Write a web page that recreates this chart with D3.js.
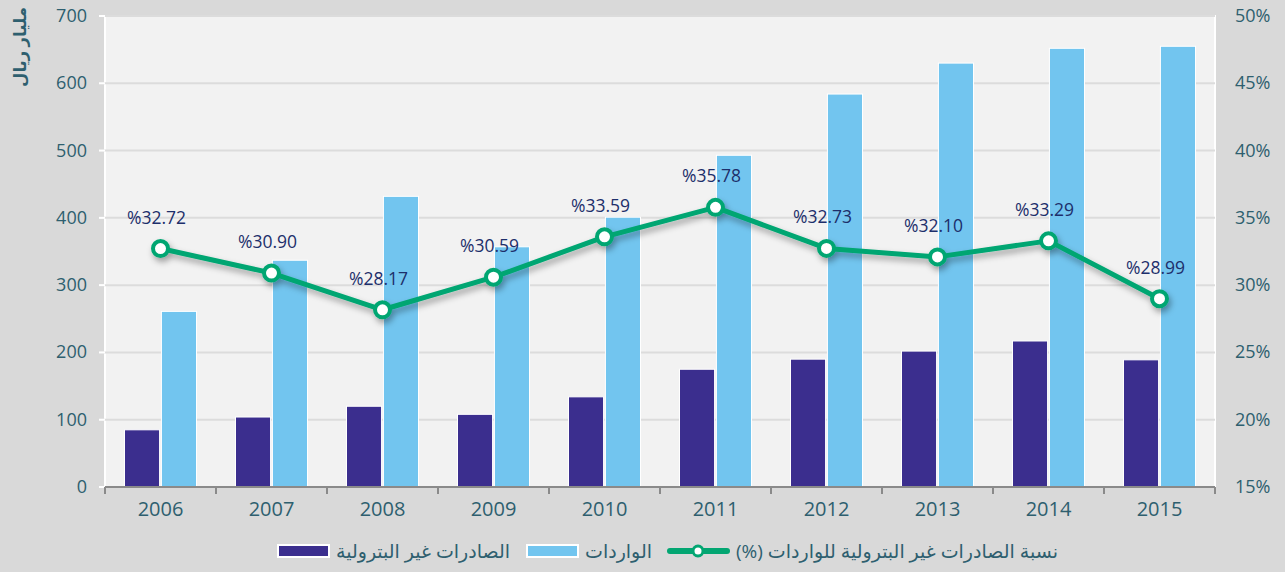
<!DOCTYPE html>
<html><head><meta charset="utf-8">
<script src="https://cdn.jsdelivr.net/npm/d3@7"></script>
<style>
html,body{margin:0;padding:0;background:#d9d9d9;}
svg{display:block;}
text{font-family:"Open Sans","DejaVu Sans",sans-serif;}
</style></head>
<body>
<svg id="c" width="1285" height="572"></svg>
<script>
const years = ["2006","2007","2008","2009","2010","2011","2012","2013","2014","2015"];
const nonOilExports = [85, 104, 120, 108, 134, 175, 190, 202, 217, 189];
const imports = [261, 337, 432, 357, 401, 493, 584, 630, 652, 655];
const ratio = [32.72, 30.90, 28.17, 30.59, 33.59, 35.78, 32.73, 32.10, 33.29, 28.99];
const leftTicks = [0,100,200,300,400,500,600,700];
const rightTicks = [15,20,25,30,35,40,45,50];
const seriesNames = ["الصادرات غير البترولية", "الواردات", "نسبة الصادرات غير البترولية للواردات (%)"];
const yTitle = "مليار ريال";

const W = 1285, H = 572;
const m = {l:105, r:70, t:16, b:85};
const pw = W - m.l - m.r, ph = H - m.t - m.b;
const svg = d3.select("#c");
const defs = svg.append("defs");
const f = defs.append("filter").attr("id","sh").attr("x","-10%").attr("y","-30%").attr("width","120%").attr("height","160%");
f.append("feDropShadow").attr("dx",2).attr("dy",4).attr("stdDeviation",3).attr("flood-color","#000").attr("flood-opacity",0.35);

const C = {purple:"#3b2e8e", blue:"#72c5ef", green:"#03a672", tick:"#2e5f6f", label:"#1d2f6b"};

const x = d3.scaleBand().domain(years).range([0,pw]).paddingInner(0).paddingOuter(0);
const xs = d3.scaleBand().domain([0,1]).range([0,72]).paddingInner(0.05);
const yL = d3.scaleLinear().domain([0,700]).range([ph,0]);
const yR = d3.scaleLinear().domain([15,50]).range([ph,0]);

const g = svg.append("g").attr("transform",`translate(${m.l},${m.t})`);
g.append("rect").attr("x",0).attr("y",0).attr("width",pw).attr("height",ph).attr("fill","#f2f2f2").attr("stroke","#ffffff").attr("stroke-width",2);

// gridlines
g.append("g").selectAll("line").data(leftTicks.slice(1)).join("line")
 .attr("x1",-6).attr("x2",pw).attr("y1",d=>yL(d)).attr("y2",d=>yL(d))
 .attr("stroke","#dcdcdc").attr("stroke-width",2);
g.append("g").selectAll("line").data(leftTicks).join("line")
 .attr("x1",-6).attr("x2",0).attr("y1",d=>yL(d)).attr("y2",d=>yL(d))
 .attr("stroke","#ffffff").attr("stroke-width",2);

// bars
const bg = g.append("g");
bg.selectAll(".p").data(years).join("rect")
 .attr("x",(d)=>x(d)+(x.bandwidth()-72)/2+xs(0)).attr("width",xs.bandwidth())
 .attr("y",(d,i)=>yL(nonOilExports[i])).attr("height",(d,i)=>ph-yL(nonOilExports[i]))
 .attr("fill",C.purple).attr("stroke","#ffffff").attr("stroke-width",1);
bg.selectAll(".b").data(years).join("rect")
 .attr("x",(d)=>x(d)+(x.bandwidth()-72)/2+xs(1)).attr("width",xs.bandwidth())
 .attr("y",(d,i)=>yL(imports[i])).attr("height",(d,i)=>ph-yL(imports[i]))
 .attr("fill",C.blue).attr("stroke","#ffffff").attr("stroke-width",1);

// bottom axis
const xa = g.append("g").attr("transform",`translate(0,${ph})`);
xa.append("line").attr("x1",0).attr("x2",pw).attr("stroke","#8a8a8a").attr("stroke-width",2);
xa.selectAll(".tk").data(d3.range(years.length+1)).join("line")
 .attr("x1",i=>i*x.step()).attr("x2",i=>i*x.step()).attr("y1",0).attr("y2",7)
 .attr("stroke","#8a8a8a").attr("stroke-width",2);
xa.selectAll("text").data(years).join("text")
 .attr("x",d=>x(d)+x.bandwidth()/2).attr("y",29).attr("text-anchor","middle")
 .attr("font-size",20).attr("fill",C.tick).text(d=>d);

// left axis labels
g.append("g").selectAll("text").data(leftTicks).join("text")
 .attr("x",-18).attr("y",d=>yL(d)+6).attr("text-anchor","end")
 .attr("font-size",18).attr("fill",C.tick).text(d=>d);
// right axis labels
g.append("g").selectAll("text").data(rightTicks).join("text")
 .attr("x",pw+20).attr("y",d=>yR(d)+6).attr("text-anchor","start")
 .attr("font-size",18).attr("fill",C.tick).text(d=>d+"%");

// y title
svg.append("text").attr("transform","translate(26,47) rotate(-90)")
 .attr("text-anchor","middle").attr("font-size",16.5).attr("font-weight","bold")
 .attr("fill",C.tick).attr("font-family","'DejaVu Sans',sans-serif").text(yTitle);

// line
const cx = d => x(d)+x.bandwidth()/2;
const line = d3.line().x((d,i)=>cx(years[i])).y(d=>yR(d));
const lg = g.append("g").attr("filter","url(#sh)");
lg.append("path").datum(ratio).attr("d",line).attr("fill","none").attr("stroke",C.green).attr("stroke-width",5).attr("stroke-linejoin","round");
lg.selectAll("circle").data(ratio).join("circle")
 .attr("cx",(d,i)=>cx(years[i])).attr("cy",d=>yR(d)).attr("r",7.5)
 .attr("fill","#ffffff").attr("stroke",C.green).attr("stroke-width",4);

g.append("g").selectAll("text").data(ratio).join("text")
 .attr("x",(d,i)=>cx(years[i])-4).attr("y",d=>yR(d)-25).attr("text-anchor","middle")
 .attr("font-size",17.5).attr("fill",C.label).text(d=>"%"+d.toFixed(2));

// legend
const leg = svg.append("g").attr("transform","translate(0,551)");
const items = [
 {type:"rect",color:C.purple,x0:278,name:seriesNames[0]},
 {type:"rect",color:C.blue,x0:527,name:seriesNames[1]},
 {type:"line",color:C.green,x0:670,name:seriesNames[2]}
];
items.forEach(it=>{
 if(it.type==="rect"){
  leg.append("rect").attr("x",it.x0).attr("y",-6).attr("width",51).attr("height",12)
   .attr("fill",it.color).attr("stroke","#ffffff").attr("stroke-width",2);
 } else {
  leg.append("line").attr("x1",it.x0).attr("x2",it.x0+57).attr("y1",0).attr("y2",0)
   .attr("stroke",it.color).attr("stroke-width",6).attr("stroke-linecap","round");
  leg.append("circle").attr("cx",it.x0+28).attr("cy",0).attr("r",5).attr("fill","#fff").attr("stroke",it.color).attr("stroke-width",3);
 }
 leg.append("text").attr("x",it.x0+(it.type==="rect"?58:66)).attr("y",7)
  .attr("font-size",19).attr("fill",C.tick).attr("font-family","'DejaVu Sans',sans-serif")
  .attr("direction","rtl").attr("text-anchor","end").text(it.name);
});
</script>
</body></html>
